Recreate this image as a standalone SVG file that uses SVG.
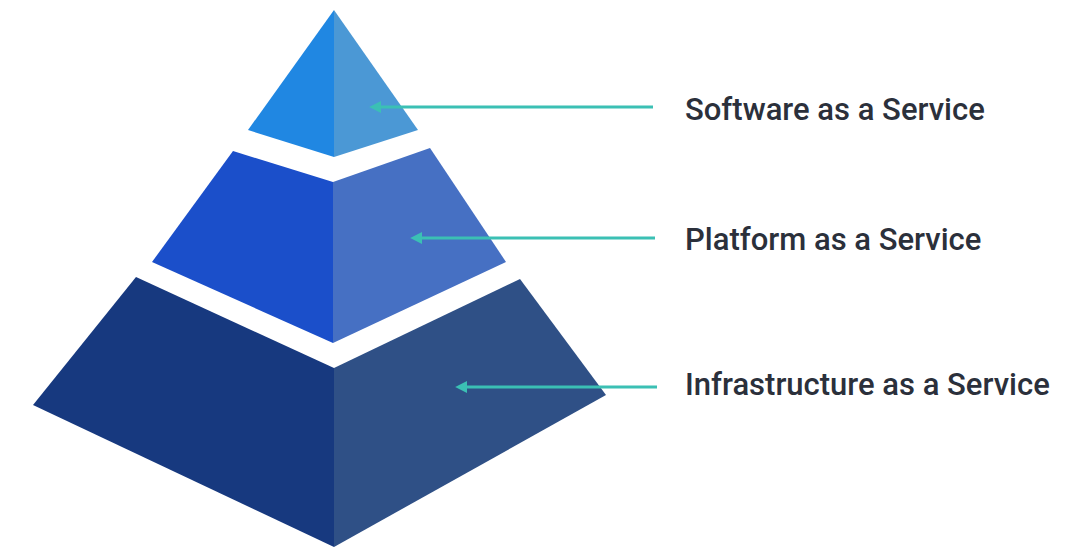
<svg xmlns="http://www.w3.org/2000/svg" width="1072" height="557" viewBox="0 0 1072 557">
<defs>
<style>
.lbl{font-family:Roboto,"Liberation Sans",sans-serif;font-size:31px;font-weight:500;fill:#2b303b}
.conn{stroke:#3bc0b4;stroke-width:3;fill:none}
</style>
<marker id="ah" viewBox="0 0 10 10" refX="1" refY="5" markerWidth="4" markerHeight="4" orient="auto-start-reverse" markerUnits="strokeWidth">
<path d="M0,0 L10,5 L0,10 z" fill="#3bc0b4"/>
</marker>
</defs>
<rect width="1072" height="557" fill="#ffffff"/>
<g id="saas">
<polygon points="334,10 248,130 334,157" fill="#2087e2"/>
<polygon points="334,10 418,130 334,157" fill="#4b98d5"/>
<text class="lbl" x="685" y="120">Software as a Service</text>
</g>
<g id="paas">
<polygon points="233,151 333,182 333,343 152,262" fill="#1b4fca"/>
<polygon points="430,148 333,182 333,343 506,262" fill="#4670c3"/>
<text class="lbl" x="685" y="250">Platform as a Service</text>
</g>
<g id="iaas">
<polygon points="136,277 334,368 334,547 33,405" fill="#17397f"/>
<polygon points="520,279 334,368 334,547 606,395" fill="#2f5086"/>
<text class="lbl" x="685" y="395">Infrastructure as a Service</text>
</g>
<g id="connectors">
<line class="conn" x1="653" y1="107" x2="380" y2="107" marker-end="url(#ah)"/>
<line class="conn" x1="655" y1="238" x2="421" y2="238" marker-end="url(#ah)"/>
<line class="conn" x1="657" y1="387" x2="466" y2="387" marker-end="url(#ah)"/>
</g>
</svg>
